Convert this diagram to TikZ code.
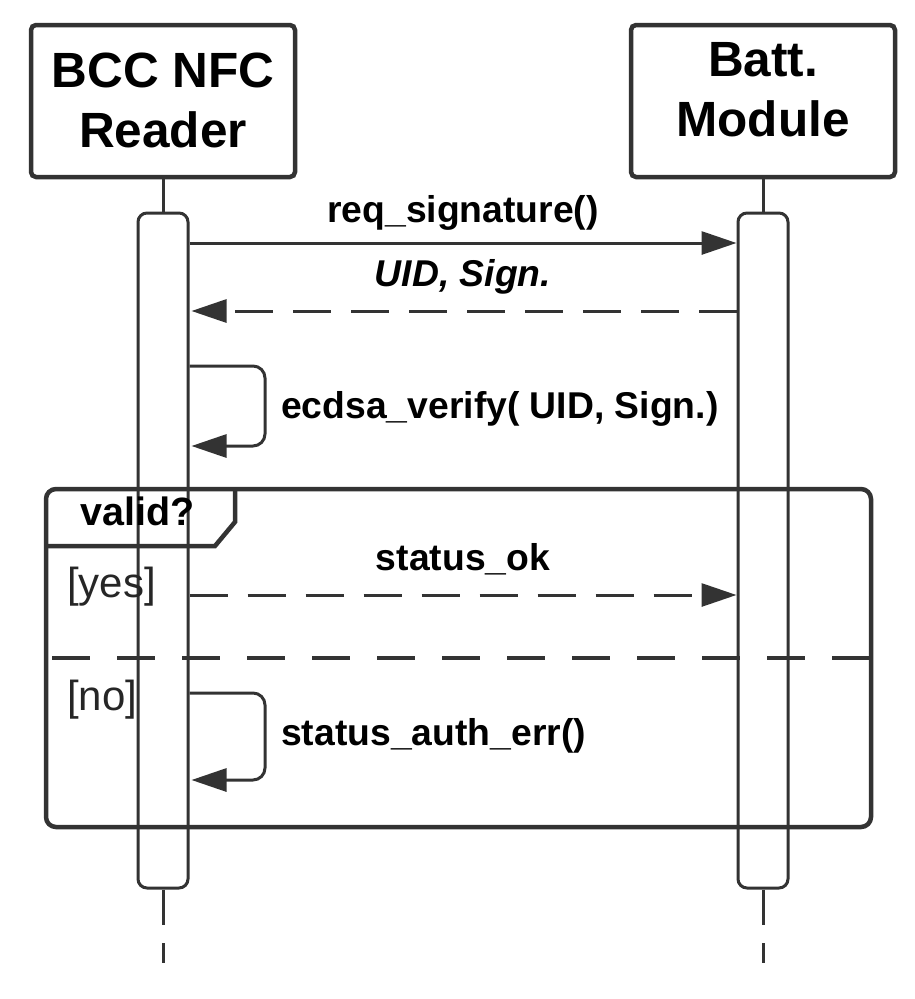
\documentclass[tikz,border=0pt]{standalone}
\usepackage{fontspec}
\setmainfont{Liberation Sans}
\usetikzlibrary{arrows.meta}
\definecolor{ln}{HTML}{333333}
\tikzset{
  headbox/.style={draw=ln, line width=4.5pt, rounded corners=5pt, fill=white, minimum width=264pt, minimum height=152pt, inner sep=0pt},
  headtxt/.style={anchor=base, inner sep=0pt, font=\fontsize{49.5}{56}\selectfont\bfseries, text=black},
  actbox/.style={draw=ln, line width=3pt, rounded corners=9pt, fill=white, minimum width=50pt, minimum height=675pt, inner sep=0pt},
  msgtxt/.style={anchor=base, inner sep=0pt, font=\fontsize{37.3}{44}\selectfont\bfseries, text=black},
  guardtxt/.style={anchor=base west, inner sep=0pt, font=\fontsize{42}{48}\selectfont, text=black!85},
  msg/.style={draw=ln, line width=3pt, -{Triangle[length=35pt,width=23pt]}},
  ret/.style={msg, dash pattern=on 38pt off 20pt},
  life/.style={draw=ln, line width=3pt},
  frm/.style={draw=ln, line width=4.5pt},
}
\begin{document}
\begin{tikzpicture}[x=1pt,y=-1pt]
\useasboundingbox (0,0) rectangle (915,999);
% heads
\node[headbox] (A) at (163,101) {};
\node[headbox] (B) at (763,101) {};
\node[headtxt] (A1) at (163,87) {BCC NFC};
\node[headtxt] (A2) at (163,147) {Reader};
\node[headtxt] (B1) at (763,76) {Batt.};
\node[headtxt] (B2) at (763,136) {Module};
% activations
\node[actbox] (AA) at (163,550.5) {};
\node[actbox] (BA) at (763,550.5) {};
% lifelines
\coordinate (Ae1) at (163,925); \coordinate (Ad0) at (163,943); \coordinate (Ad1) at (163,963);
\coordinate (Be1) at (763,925); \coordinate (Bd0) at (763,943); \coordinate (Bd1) at (763,963);
\draw[life] (A.south) -- (AA.north);
\draw[life] (B.south) -- (BA.north);
\draw[life] (AA.south) -- (Ae1);
\draw[life] (Ad0) -- (Ad1);
\draw[life] (BA.south) -- (Be1);
\draw[life] (Bd0) -- (Bd1);
% message 1
\draw[msg] (AA.east |- 0,243) -- (BA.west |- 0,243);
\node[msgtxt] (m1) at (463,222) {req\_signature()};
% message 2
\draw[ret] (BA.west |- 0,311) -- ([xshift=2pt]AA.east |- 0,311);
\node[msgtxt] (m2) at (463,286) {\itshape UID, Sign.};
% self message 1
\draw[msg, rounded corners=12pt] (AA.east |- 0,366) -- (265,366) -- (265,446) -- ([xshift=2pt]AA.east |- 0,446);
\node[msgtxt, anchor=base west] (m3) at (281,418) {ecdsa\_verify( UID, Sign.)};
% frame
\draw[frm, rounded corners=10pt, fill=none] (46,489) rectangle (871,827);
\coordinate (F1) at (46,546);
\coordinate (F4) at (235,489);
\draw[frm, line join=miter] (F1) -- (215,546) -- (235,522) -- (F4);
\node[msgtxt, font=\fontsize{39.5}{46}\selectfont\bfseries] (fl) at (138,525) {valid?};
\coordinate (S0) at (46,658); \coordinate (S1) at (871,658);
\draw[frm, line width=4pt, dash pattern=on 38pt off 27pt, dash phase=-6pt] (S0) -- (S1);
\node[guardtxt] (g1) at (67,597) {[yes]};
\node[guardtxt] (g2) at (67,710) {[no]};
% message 3
\draw[ret] (AA.east |- 0,595) -- (BA.west |- 0,595);
\node[msgtxt] (m4) at (463,570) {status\_ok};
% self message 2
\draw[msg, rounded corners=12pt] (AA.east |- 0,693) -- (265,693) -- (265,780) -- ([xshift=2pt]AA.east |- 0,780);
\node[msgtxt, anchor=base west] (m5) at (281,745) {status\_auth\_err()};
\end{tikzpicture}
\end{document}
